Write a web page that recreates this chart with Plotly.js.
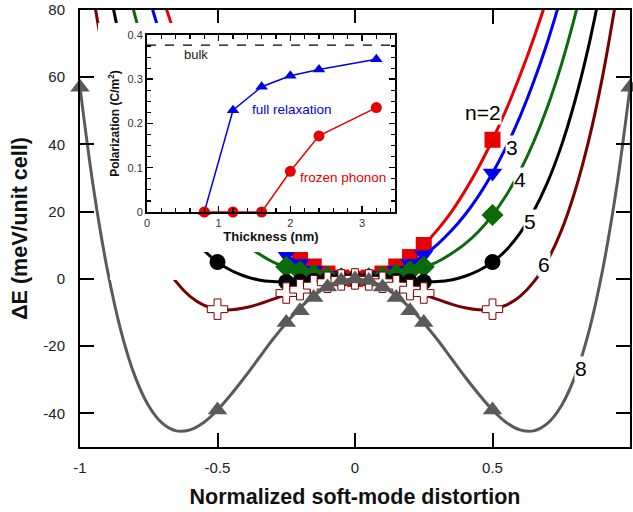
<!DOCTYPE html>
<html>
<head>
<meta charset="utf-8">
<script src="https://cdn.plot.ly/plotly-3.0.1.min.js"></script>
<style>html,body{margin:0;padding:0;background:#fff;}#chart{width:633px;height:512px;}</style>
</head>
<body>
<div id="chart"></div>
<script>
// ---- main chart: energy vs normalized soft-mode distortion ----
const xTickVals = [-1, -0.5, 0, 0.5, 1];
const xTickText = ['-1', '-0.5', '0', '0.5', '1'];
const yTickVals = [-40, -20, 0, 20, 40, 60, 80];
const yTickText = ['-40', '-20', '0', '20', '40', '60', '80'];

// fitted curves
const xs2 = [-0.7,-0.65,-0.6,-0.55,-0.5,-0.45,-0.4,-0.35,-0.3,-0.25,-0.2,-0.15,-0.1,-0.05,0,0.05,0.1,0.15,0.2,0.25,0.3,0.35,0.4,0.45,0.5,0.55,0.6,0.65,0.7];
const es2 = [83.8,71.6,60.5,50.4,41.4,33.3,26.2,19.9,14.6,10.1,6.4,3.6,1.6,0.4,0,0.4,1.6,3.6,6.4,10.1,14.6,19.9,26.2,33.3,41.4,50.4,60.5,71.6,83.8];

const xs3 = [-0.75,-0.7,-0.65,-0.6,-0.55,-0.5,-0.45,-0.4,-0.35,-0.3,-0.25,-0.2,-0.15,-0.1,-0.05,0,0.05,0.1,0.15,0.2,0.25,0.3,0.35,0.4,0.45,0.5,0.55,0.6,0.65,0.7,0.75];
const es3 = [84.0,70.5,58.7,48.3,39.3,31.5,24.8,19.1,14.3,10.3,7.0,4.4,2.5,1.1,0.3,0,0.3,1.1,2.5,4.4,7.0,10.3,14.3,19.1,24.8,31.5,39.3,48.3,58.7,70.5,84.0];

const xs4 = [-0.85,-0.8,-0.75,-0.7,-0.65,-0.6,-0.55,-0.5,-0.45,-0.4,-0.35,-0.3,-0.25,-0.2,-0.15,-0.1,-0.05,0,0.05,0.1,0.15,0.2,0.25,0.3,0.35,0.4,0.45,0.5,0.55,0.6,0.65,0.7,0.75,0.8,0.85];
const es4 = [95.5,78.3,63.6,51.2,40.8,32.1,24.9,19.0,14.2,10.4,7.5,5.1,3.4,2.0,1.1,0.5,0.1,0,0.1,0.5,1.1,2.0,3.4,5.1,7.5,10.4,14.2,19.0,24.9,32.1,40.8,51.2,63.6,78.3,95.5];

const xs5 = [-0.9,-0.85,-0.8,-0.75,-0.7,-0.65,-0.6,-0.55,-0.5,-0.45,-0.4,-0.35,-0.3,-0.25,-0.2,-0.15,-0.1,-0.05,0,0.05,0.1,0.15,0.2,0.25,0.3,0.35,0.4,0.45,0.5,0.55,0.6,0.65,0.7,0.75,0.8,0.85,0.9];
const es5 = [89.2,69.4,53.0,39.5,28.7,20.2,13.6,8.6,5.0,2.5,0.8,-0.3,-0.8,-0.85,-0.7,-0.45,-0.22,-0.06,0,-0.06,-0.22,-0.45,-0.7,-0.85,-0.8,-0.3,0.8,2.5,5.0,8.6,13.6,20.2,28.7,39.5,53.0,69.4,89.2];

const xs6 = [-0.95,-0.9,-0.85,-0.8,-0.75,-0.7,-0.65,-0.6,-0.55,-0.5,-0.45,-0.4,-0.35,-0.3,-0.25,-0.2,-0.15,-0.1,-0.05,0,0.05,0.1,0.15,0.2,0.25,0.3,0.35,0.4,0.45,0.5,0.55,0.6,0.65,0.7,0.75,0.8,0.85,0.9,0.95];
const es6 = [83.4,60.1,41.2,26.1,14.3,5.5,-0.9,-5.2,-7.8,-9.0,-9.2,-8.6,-7.5,-6.1,-4.6,-3.1,-1.8,-0.8,-0.2,0,-0.2,-0.8,-1.8,-3.1,-4.6,-6.1,-7.5,-8.6,-9.2,-9.0,-7.8,-5.2,-0.9,5.5,14.3,26.1,41.2,60.1,83.4];

const xs8 = [-1,-0.95,-0.9,-0.85,-0.8,-0.75,-0.7,-0.65,-0.6,-0.55,-0.5,-0.45,-0.4,-0.35,-0.3,-0.25,-0.2,-0.15,-0.1,-0.05,0,0.05,0.1,0.15,0.2,0.25,0.3,0.35,0.4,0.45,0.5,0.55,0.6,0.65,0.7,0.75,0.8,0.85,0.9,0.95,1];
const es8 = [57,26.5,2.5,-15.8,-29.0,-37.8,-43.0,-45.2,-44.9,-42.7,-39.0,-34.3,-29.1,-23.6,-18.1,-13.1,-8.6,-5.0,-2.2,-0.6,0,-0.6,-2.2,-5.0,-8.6,-13.1,-18.1,-23.6,-29.1,-34.3,-39.0,-42.7,-44.9,-45.2,-43.0,-37.8,-29.0,-15.8,2.5,26.5,57];

// computed points (markers)
const mX = [-0.5,-0.25,-0.2,-0.15,-0.1,-0.05,0,0.05,0.1,0.15,0.2,0.25,0.5];
const mE2 = [41.4,10.1,6.5,3.7,1.6,0.4,0,0.4,1.6,3.7,6.5,10.1,41.4];
const mE3 = [31.5,7.2,4.6,2.6,1.1,0.3,0,0.3,1.1,2.6,4.6,7.2,31.5];
const mE4 = [19,3.6,2.3,1.3,0.6,0.15,0,0.15,0.6,1.3,2.3,3.6,19];
const mE5 = [5,-0.9,-0.8,-0.6,-0.3,-0.1,0,-0.1,-0.3,-0.6,-0.8,-0.9,5];
const mE6 = [-9,-4.2,-3.2,-2.0,-1.0,-0.3,0,-0.3,-1.0,-2.0,-3.2,-4.2,-9];
const mX8 = [-1,-0.5,-0.25,-0.2,-0.15,-0.1,-0.05,0,0.05,0.1,0.15,0.2,0.25,0.5,1];
const mE8 = [57,-39,-13,-9.5,-5.5,-2.4,-0.5,0,-0.5,-2.4,-5.5,-9.5,-13,-39,57];

// curve labels
const lblText = ['n=2', '3', '4', '5', '6', '8'];
const lblX = [0.466, 0.572, 0.601, 0.638, 0.689, 0.820];
const lblY = [49.4, 39.0, 29.5, 17.0, 4.2, -26.5];

// ---- inset: polarization vs thickness ----
const thick = [0.8, 1.2, 1.6, 2.0, 2.4, 3.2];
const pFull = [0, 0.23, 0.283, 0.308, 0.322, 0.345];
const pFrozen = [0, 0, 0, 0.092, 0.172, 0.236];
const bulkX = [0, 3.46];
const bulkP = [0.377, 0.377];

const FONT = 'Liberation Sans, Arial, sans-serif';
const cRed = '#e60000', cBlue = '#0000f0', cGreen = '#0b6b0b', cBlack = '#000000', cDark = '#7a0000', cGray = '#5a5a5a';

function curve(x, y, color) {
  return {x: x, y: y, type: 'scatter', mode: 'lines', line: {color: color, width: 3, shape: 'spline'}, hoverinfo: 'skip', showlegend: false};
}
function marks(x, y, sym, color, size, lineColor, lineW) {
  return {x: x, y: y, type: 'scatter', mode: 'markers', cliponaxis: false, showlegend: false,
    marker: {symbol: sym, color: color, size: size, line: {color: lineColor || color, width: lineW || 0}}};
}
function cover(ax) {
  return {x: [0], y: [0], xaxis: 'x' + ax, yaxis: 'y' + ax, type: 'scatter', mode: 'markers',
    marker: {opacity: 0}, hoverinfo: 'skip', showlegend: false};
}
function hiddenAxis(domain, anchor) {
  return {domain: domain, anchor: anchor, range: [0, 1], visible: false, showgrid: false, zeroline: false};
}

const traces = [
  curve(xs2, es2, cRed), marks(mX, mE2, 'square', cRed, 16),
  curve(xs3, es3, cBlue), marks(mX, mE3, 'triangle-down', cBlue, 17),
  curve(xs4, es4, cGreen), marks(mX, mE4, 'diamond', cGreen, 17),
  curve(xs5, es5, cBlack), marks(mX, mE5, 'circle', cBlack, 16),
  curve(xs6, es6, cDark), marks(mX, mE6, 'cross', '#ffffff', 17, cDark, 1),
  curve(xs8, es8, cGray), marks(mX8, mE8, 'triangle-up', cGray, 17),
  // white panels behind the inset (subplot backgrounds)
  cover(2), cover(3), cover(4),
  // inset traces
  {x: bulkX, y: bulkP, xaxis: 'x5', yaxis: 'y5', type: 'scatter', mode: 'lines', line: {color: '#000', width: 1.2, dash: 'dash'}, showlegend: false},
  {x: thick, y: pFull, xaxis: 'x5', yaxis: 'y5', type: 'scatter', mode: 'lines+markers', cliponaxis: false,
   line: {color: '#0000e6', width: 1.5}, marker: {symbol: 'triangle-up', size: 11, color: '#0000e6'}, showlegend: false},
  {x: thick, y: pFrozen, xaxis: 'x5', yaxis: 'y5', type: 'scatter', mode: 'lines+markers', cliponaxis: false,
   line: {color: '#e60000', width: 1.5}, marker: {symbol: 'circle', size: 11, color: '#e60000'}, showlegend: false}
];

const annotations = lblText.map((t, i) => ({
  x: lblX[i], y: lblY[i], xref: 'x', yref: 'y', text: t, showarrow: false,
  font: {family: FONT, size: 21, color: '#000'}, bgcolor: '#ffffff', borderpad: 0
}));
annotations.push(
  {x: 0.68, y: 0.357, xref: 'x5', yref: 'y5', text: 'bulk', showarrow: false, font: {family: FONT, size: 13, color: '#222'}},
  {x: 2.02, y: 0.231, xref: 'x5', yref: 'y5', text: 'full relaxation', showarrow: false, font: {family: FONT, size: 13.5, color: '#0000e6'}},
  {x: 2.74, y: 0.078, xref: 'x5', yref: 'y5', text: 'frozen phonon', showarrow: false, font: {family: FONT, size: 13.5, color: '#e60000'}}
);

const layout = {
  width: 633, height: 512,
  margin: {l: 80, r: 3, t: 10, b: 65},
  paper_bgcolor: '#ffffff', plot_bgcolor: '#ffffff',
  font: {family: FONT, color: '#222'},
  showlegend: false,
  xaxis: {
    range: [-1, 1], tickvals: xTickVals, ticktext: xTickText,
    ticks: 'inside', ticklen: 14, tickwidth: 2, tickcolor: '#000',
    showline: true, linewidth: 2, linecolor: '#000', mirror: 'ticks',
    showgrid: false, zeroline: false, ticklabelstandoff: 6,
    tickfont: {family: FONT, size: 15, color: '#222'},
    title: {text: '<b>Normalized soft-mode distortion</b>', font: {family: FONT, size: 21.5, color: '#111'}, standoff: 14}
  },
  yaxis: {
    range: [-50, 80], tickvals: yTickVals, ticktext: yTickText,
    ticks: 'inside', ticklen: 14, tickwidth: 2, tickcolor: '#000',
    showline: true, linewidth: 2, linecolor: '#000', mirror: 'ticks',
    showgrid: false, zeroline: false, ticklabelstandoff: 10,
    tickfont: {family: FONT, size: 15, color: '#222'},
    title: {text: '<b>ΔE (meV/unit cell)</b>', font: {family: FONT, size: 21.5, color: '#111'}, standoff: 10}
  },
  xaxis2: hiddenAxis([0.0327, 0.5855], 'y2'),
  yaxis2: hiddenAxis([0.5423, 0.9703], 'x2'),
  xaxis3: hiddenAxis([0.0545, 0.5855], 'y3'),
  yaxis3: hiddenAxis([0.4462, 0.9703], 'x3'),
  xaxis4: hiddenAxis([0.0545, 0.2182], 'y4'),
  yaxis4: hiddenAxis([0.3822, 0.9703], 'x4'),
  xaxis5: {
    domain: [0.1218, 0.5727], anchor: 'y5', range: [0, 3.46], dtick: 1, tick0: 0,
    ticks: 'inside', ticklen: 6, tickwidth: 1.5, tickcolor: '#000',
    minor: {dtick: 0.2, ticks: 'inside', ticklen: 4, tickcolor: '#000', tickwidth: 1.2},
    showline: true, linewidth: 2, linecolor: '#000', mirror: 'ticks',
    showgrid: false, zeroline: false,
    tickfont: {family: FONT, size: 11, color: '#333'},
    title: {text: '<b>Thickness (nm)</b>', font: {family: FONT, size: 13, color: '#111'}, standoff: 3}
  },
  yaxis5: {
    domain: [0.5378, 0.9428], anchor: 'x5', range: [0, 0.4], dtick: 0.1, tick0: 0,
    ticks: 'inside', ticklen: 6, tickwidth: 1.5, tickcolor: '#000',
    minor: {dtick: 0.025, ticks: 'inside', ticklen: 4, tickcolor: '#000', tickwidth: 1.2},
    showline: true, linewidth: 2, linecolor: '#000', mirror: 'ticks',
    showgrid: false, zeroline: false,
    tickfont: {family: FONT, size: 11, color: '#333'},
    title: {text: '<b>Polarization (C/m<sup>2</sup>)</b>', font: {family: FONT, size: 12, color: '#111'}, standoff: 5}
  },
  annotations: annotations
};

Plotly.newPlot('chart', traces, layout, {displayModeBar: false, staticPlot: true});
</script>
</body>
</html>
